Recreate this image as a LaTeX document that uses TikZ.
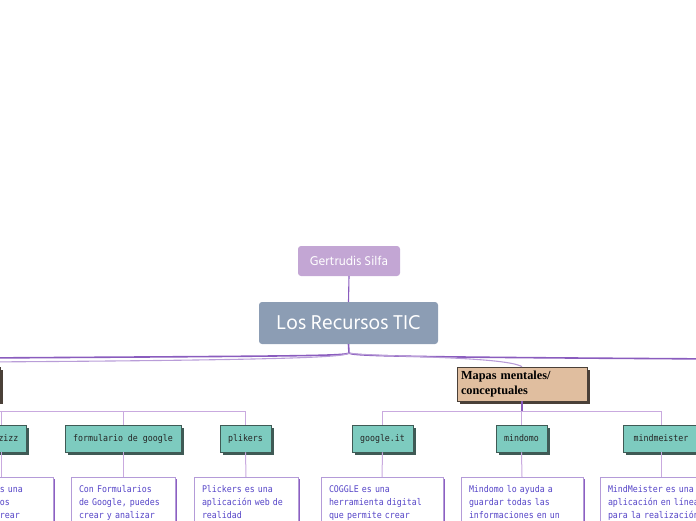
\documentclass[tikz,border=0pt]{standalone}
\usepackage{fontspec}
\setmainfont{Hind Siliguri}
\newfontfamily\monof[FakeStretch=0.9]{DejaVu Sans Mono}
\newfontfamily\serifb{Liberation Serif}
\usetikzlibrary{shadows}
\definecolor{ticfill}{HTML}{8C9DB4}
\definecolor{gertfill}{HTML}{C3A6D4}
\definecolor{mainpurple}{HTML}{8A5CBE}
\definecolor{lavline}{HTML}{C9AADF}
\definecolor{tealfill}{HTML}{7DCBBF}
\definecolor{tealshadow}{HTML}{3F5A55}
\definecolor{tanfill}{HTML}{E0BE9F}
\definecolor{tanshadow}{HTML}{4A4038}
\definecolor{descborder}{HTML}{B49BD8}
\definecolor{descshadow}{HTML}{8C5FC2}
\definecolor{desctext}{HTML}{5645C8}
\tikzset{
  rootbox/.style={fill=ticfill, rounded corners=3pt, text=white, minimum width=179pt, minimum height=42pt, inner sep=0pt, font=\fontsize{20.5}{24}\selectfont},
  authorbox/.style={fill=gertfill, rounded corners=3pt, text=white, minimum width=102pt, minimum height=30pt, inner sep=0pt, font=\fontsize{13}{15}\selectfont},
  catframe/.style={fill=tanfill, draw=tanshadow, line width=0.6pt, drop shadow={shadow xshift=2.5pt, shadow yshift=-2.5pt, fill=tanshadow, opacity=1}, minimum width=130pt, minimum height=34pt, inner sep=0pt},
  catbox/.style={catframe, text width=122pt, align=left, font=\serifb\bfseries\fontsize{12.3}{14.8}\selectfont},
  toolbox/.style={fill=tealfill, draw=tealshadow, line width=0.5pt, drop shadow={shadow xshift=2.5pt, shadow yshift=-2.5pt, fill=tealshadow, opacity=1}, minimum height=27pt, inner sep=0pt, text=black!85, font=\monof\fontsize{9.2}{11}\selectfont},
  descbox/.style={fill=white, draw=descborder, line width=0.8pt, drop shadow={shadow xshift=2pt, shadow yshift=-2pt, fill=descshadow, opacity=1}, anchor=north, inner xsep=8pt, inner ysep=8pt, align=left, text=desctext, font=\monof\fontsize{9.2}{13}\selectfont},
  mainline/.style={draw=mainpurple, line width=1.6pt},
  softline/.style={draw=lavline, line width=1pt},
  pline/.style={draw=mainpurple, line width=1.1pt},
}
\begin{document}
\begin{tikzpicture}[x=1pt,y=-1pt]
\useasboundingbox (0,0) rectangle (696,520);
\clip (0,0) rectangle (696,520);

\node[authorbox] (gert) at (349,261) {Gertrudis Silfa};
\node[rootbox] (tic) at (348.5,323) {Los Recursos TIC};

\coordinate (hub) at (349,353);
\coordinate (lend) at (-20,358);
\coordinate (lend2) at (-20,362);
\coordinate (rend) at (720,359);

\draw[pline] (gert.south) -- (tic.north);
\draw[mainline] (tic.south) -- (hub);
\draw[mainline] (hub) .. controls (345,356) and (300,356) .. (lend);
\draw[mainline] (hub) .. controls (353,356) and (400,357) .. (rend);
\draw[pline, draw=mainpurple!60] (hub) .. controls (345,357) and (300,360) .. (lend2);

\node[catbox] (mapas) at (522,384) {Mapas mentales/\\conceptuales};
\node[catframe] (lbox) at (-65,384) {};
\draw[pline, draw=mainpurple!60] (hub) .. controls (370,357) and (505,356) .. (mapas.north);

\node[toolbox, minimum width=50pt] (quiz) at (1,438.5) {quizizz};
\node[toolbox, minimum width=116pt] (form) at (123,438.5) {formulario de google};
\node[toolbox, minimum width=51pt] (plik) at (245.5,438.5) {plikers};
\node[toolbox, minimum width=61pt] (goog) at (382.5,438.5) {google.it};
\node[toolbox, minimum width=51pt] (mindo) at (521.5,438.5) {mindomo};
\node[toolbox, minimum width=76pt] (mmeis) at (661,438.5) {mindmeister};

\coordinate (lbar) at (-65,411.5);
\draw[pline] (mapas.south) -- (mapas.south |- 0,411.5);
\draw[softline] (lbar) -| (plik.north);
\draw[softline] (quiz.north) -- (quiz.north |- 0,411.5);
\draw[softline] (form.north) -- (form.north |- 0,411.5);
\draw[softline] (goog.north) |- (mmeis.north |- 0,411.5) -- (mmeis.north);
\draw[softline] (mindo.north) -- (mindo.north |- 0,411.5);

\node[descbox, text width=88pt] (dquiz) at (1,477) {Quizizz es una\\tus alumnos\\permite crear\\\mbox{}};
\node[descbox, text width=88pt] (dform) at (123,477) {Con Formularios\\de Google, puedes\\crear y analizar\\\mbox{}};
\node[descbox, text width=88pt] (dplik) at (246,477) {Plickers es una\\aplicación web de\\realidad\\\mbox{}};
\node[descbox, text width=106pt] (dgoog) at (382,477) {COGGLE es una\\herramienta digital\\que permite crear\\\mbox{}};
\node[descbox, text width=106pt] (dmindo) at (522,477) {Mindomo lo ayuda a\\guardar todas las\\informaciones en un\\\mbox{}};
\node[descbox, text width=106pt] (dmmeis) at (661,477) {MindMeister es una\\aplicación en línea\\para la realización\\\mbox{}};

\draw[softline] (quiz.south) -- (dquiz.north);
\draw[softline] (form.south) -- (dform.north);
\draw[softline] (plik.south) -- (dplik.north);
\draw[softline] (goog.south) -- (dgoog.north);
\draw[softline] (mindo.south) -- (dmindo.north);
\draw[softline] (mmeis.south) -- (dmmeis.north);
\end{tikzpicture}
\end{document}
